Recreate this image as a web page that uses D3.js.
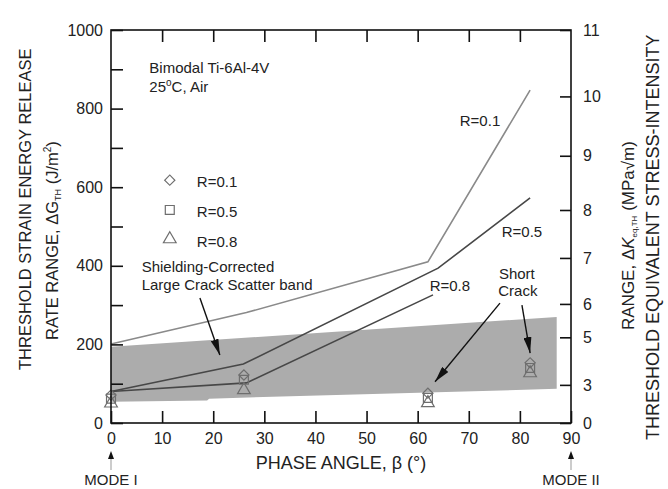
<!DOCTYPE html>
<html>
<head>
<meta charset="utf-8">
<script src="https://cdn.jsdelivr.net/npm/d3@7"></script>
<style>
  body { margin: 0; background: #fff; }
  svg text { font-family: "Liberation Sans", Arial, sans-serif; fill: #222; }
</style>
</head>
<body>
<div id="chart"></div>
<script>
(function() {

// phase angles of the short crack tests
var phaseAngles = [0, 26, 62, 82];

// short crack thresholds (J/m2) for each load ratio
var shortR01 = [71, 122, 76, 153];
var shortR05 = [62, 110, 64, 140];
var shortR08 = [50, 84, 51, 127];

// large crack threshold curves [beta, dG]
var lineR01 = [[0, 201], [26.5, 281], [62, 410], [82, 847]];
var lineR05 = [[0, 80], [25.9, 150], [64, 394], [82, 573]];
var lineR08 = [[0, 80], [26.5, 102], [63, 326]];

// shielding-corrected large crack scatter band
var bandUpper = [[0, 194], [87.2, 270]];
var bandLower = [[0, 54], [18.8, 57], [19.2, 62], [87.2, 87]];

// axis ticks
var xTicks = [0, 10, 20, 30, 40, 50, 60, 70, 80, 90];
var yTicks = [0, 100, 200, 300, 400, 500, 600, 700, 800, 900, 1000];
var kLabels = [0, 3, 5, 6, 7, 8, 9, 10, 11];
var kTickG = [0, 97, 218, 303, 420, 542, 680, 831, 1000];

var width = 668, height = 489;
var margin = {top: 30, right: 97, bottom: 66, left: 111};

var x = d3.scaleLinear().domain([0, 90]).range([margin.left, width - margin.right]);
var y = d3.scaleLinear().domain([0, 1000]).range([height - margin.bottom, margin.top]);

var svg = d3.select('#chart')
            .append('svg')
            .attr('width', width)
            .attr('height', height);

var line = d3.line()
    .x(function(d) { return x(d[0]); })
    .y(function(d) { return y(d[1]); });

// scatter band
var bandPts = bandUpper.concat(bandLower.slice().reverse());
svg.append('path')
    .datum(bandPts)
    .attr('fill', '#acacac')
    .attr('stroke', 'none')
    .attr('d', function(d) { return line(d) + 'Z'; });

// threshold lines
[[lineR01, '#8a8a8a'], [lineR05, '#474747'], [lineR08, '#474747']].forEach(function(s) {
  svg.append('path')
      .datum(s[0])
      .attr('fill', 'none')
      .attr('stroke', s[1])
      .attr('stroke-width', 1.6)
      .attr('d', line);
});

// markers
var diamond = d3.symbol().type(d3.symbolSquare).size(52);
var square = d3.symbol().type(d3.symbolSquare).size(80);
var triangle = d3.symbol().type(d3.symbolTriangle).size(70);

function drawMarkers(vals, sym, rot) {
  svg.append('g')
    .selectAll('path')
    .data(vals)
    .enter().append('path')
      .attr('d', sym)
      .attr('transform', function(d, i) {
        return 'translate(' + x(phaseAngles[i]) + ',' + y(d) + ') rotate(' + rot + ')';
      })
      .attr('fill', 'none')
      .attr('stroke', '#6e6e6e')
      .attr('stroke-width', 1.2);
}
drawMarkers(shortR01, diamond, 45);
drawMarkers(shortR05, square, 0);
drawMarkers(shortR08, triangle, 0);

// frame
svg.append('rect')
    .attr('x', x(0))
    .attr('y', y(1000))
    .attr('width', x(90) - x(0))
    .attr('height', y(0) - y(1000))
    .attr('fill', 'none')
    .attr('stroke', '#111')
    .attr('stroke-width', 1.6);

// left axis, ticks pointing in
var yAxis = svg.append('g')
    .attr('transform', 'translate(' + x(0) + ',0)')
    .call(d3.axisLeft(y)
      .tickValues(yTicks)
      .tickSizeInner(-12)
      .tickSizeOuter(0)
      .tickPadding(8)
      .tickFormat(function(d) { return d % 200 === 0 ? d : ''; }));

// bottom axis
var xAxis = svg.append('g')
    .attr('transform', 'translate(0,' + y(0) + ')')
    .call(d3.axisBottom(x)
      .tickValues(xTicks)
      .tickSizeInner(-12)
      .tickSizeOuter(0)
      .tickPadding(10));

// top axis, no labels
var topAxis = svg.append('g')
    .attr('transform', 'translate(0,' + y(1000) + ')')
    .call(d3.axisTop(x)
      .tickValues(xTicks.slice(1, -1))
      .tickSizeInner(-12)
      .tickSizeOuter(0)
      .tickFormat(''));

// right axis: equivalent stress intensity
var rightAxis = svg.append('g')
    .attr('transform', 'translate(' + x(90) + ',0)')
    .call(d3.axisRight(y)
      .tickValues(kTickG)
      .tickSizeInner(-11)
      .tickSizeOuter(0)
      .tickPadding(12)
      .tickFormat(function(d, i) { return kLabels[i]; }));

[yAxis, xAxis, topAxis, rightAxis].forEach(function(a) {
  a.select('.domain').remove();
  a.selectAll('line').attr('stroke', '#111').attr('stroke-width', 1.6);
  a.selectAll('text')
    .attr('font-size', 16)
    .attr('fill', '#222')
    .style('font-family', '"Liberation Sans", Arial, sans-serif');
});
rightAxis.selectAll('text').attr('text-anchor', 'start');

// x axis title
svg.append('text')
    .attr('x', (x(0) + x(90)) / 2)
    .attr('y', 469)
    .attr('text-anchor', 'middle')
    .attr('font-size', 18)
    .text('PHASE ANGLE, \u03b2 (\u00b0)');

// mode labels with little arrows
[[0, 'MODE I'], [90, 'MODE II']].forEach(function(m) {
  svg.append('line')
      .attr('x1', x(m[0])).attr('x2', x(m[0]))
      .attr('y1', 470).attr('y2', 458)
      .attr('stroke', '#999')
      .attr('stroke-width', 1);
  svg.append('path')
      .attr('d', 'M' + (x(m[0]) - 3) + ',459L' + x(m[0]) + ',451L' + (x(m[0]) + 3) + ',459Z')
      .attr('fill', '#111');
  svg.append('text')
      .attr('x', x(m[0]))
      .attr('y', 485)
      .attr('text-anchor', 'middle')
      .attr('font-size', 15)
      .text(m[1]);
});

// left axis title
svg.append('text')
    .attr('transform', 'translate(31,370) rotate(-90)')
    .attr('font-size', 16.5)
    .text('THRESHOLD STRAIN ENERGY RELEASE');
var lt2 = svg.append('text')
    .attr('transform', 'translate(58,340) rotate(-90)')
    .attr('font-size', 16.5);
lt2.append('tspan').text('RATE RANGE, \u0394G');
lt2.append('tspan').attr('font-size', 9).attr('dy', 3).text('TH');
lt2.append('tspan').attr('dy', -3).text(' (J/m');
lt2.append('tspan').attr('font-size', 10).attr('dy', -7).text('2');
lt2.append('tspan').attr('dy', 7).text(')');

// right axis title
svg.append('text')
    .attr('transform', 'translate(659,440) rotate(-90)')
    .attr('font-size', 18)
    .text('THRESHOLD EQUIVALENT STRESS-INTENSITY');
var rt2 = svg.append('text')
    .attr('transform', 'translate(634,330) rotate(-90)')
    .attr('font-size', 17);
rt2.append('tspan').text('RANGE, \u0394');
rt2.append('tspan').attr('font-style', 'italic').text('K');
rt2.append('tspan').attr('font-size', 8).attr('dy', 3).text('eq,TH');
rt2.append('tspan').attr('dy', -3).text('  (MPa\u221am)');

// material note
var note = svg.append('g').attr('font-size', 15);
note.append('text').attr('x', x(7.5)).attr('y', y(890)).text('Bimodal Ti-6Al-4V');
var n2 = note.append('text').attr('x', x(7.5)).attr('y', y(843));
n2.append('tspan').text('25');
n2.append('tspan').attr('font-size', 10).attr('dy', -6).text('o');
n2.append('tspan').attr('dy', 6).text('C, Air');

// legend
var legendRows = [['R=0.1', diamond, 45, 618, 601], ['R=0.5', square, 0, 542, 524], ['R=0.8', triangle, 0, 468, 448]];
legendRows.forEach(function(r) {
  svg.append('path')
      .attr('d', r[1])
      .attr('transform', 'translate(' + x(11.5) + ',' + y(r[3]) + ') rotate(' + r[2] + ')')
      .attr('fill', 'none')
      .attr('stroke', '#6e6e6e')
      .attr('stroke-width', 1.2);
  svg.append('text')
      .attr('x', x(16.8))
      .attr('y', y(r[4]))
      .attr('font-size', 15)
      .text(r[0]);
});

// curve labels
[['R=0.1', 72.2, 756], ['R=0.5', 80.4, 473], ['R=0.8', 66.3, 336]].forEach(function(l) {
  svg.append('text')
      .attr('x', x(l[1]))
      .attr('y', y(l[2]))
      .attr('text-anchor', 'middle')
      .attr('font-size', 15)
      .text(l[0]);
});

// band and short crack annotations
svg.append('text').attr('x', x(6)).attr('y', y(385)).attr('font-size', 15).text('Shielding-Corrected');
svg.append('text').attr('x', x(6)).attr('y', y(338)).attr('font-size', 15).text('Large Crack Scatter band');
svg.append('text').attr('x', x(79.4)).attr('y', y(366)).attr('text-anchor', 'middle').attr('font-size', 15).text('Short');
svg.append('text').attr('x', x(79.6)).attr('y', y(323)).attr('text-anchor', 'middle').attr('font-size', 15).text('Crack');

svg.append('defs').append('marker')
    .attr('id', 'head')
    .attr('viewBox', '0 0 16 8')
    .attr('refX', 16).attr('refY', 4)
    .attr('markerWidth', 16).attr('markerHeight', 8)
    .attr('markerUnits', 'userSpaceOnUse')
    .attr('orient', 'auto')
    .append('path')
      .attr('d', 'M0,0L16,4L0,8Z')
      .attr('fill', '#111');

var arrows = [[17.4, 318, 21.3, 173], [76.1, 305, 63.4, 105], [80.4, 300, 82.0, 178]];
arrows.forEach(function(a) {
  svg.append('line')
      .attr('x1', x(a[0])).attr('y1', y(a[1]))
      .attr('x2', x(a[2])).attr('y2', y(a[3]))
      .attr('stroke', '#111')
      .attr('stroke-width', 1.4)
      .attr('marker-end', 'url(#head)');
});

})();
</script>
</body>
</html>
